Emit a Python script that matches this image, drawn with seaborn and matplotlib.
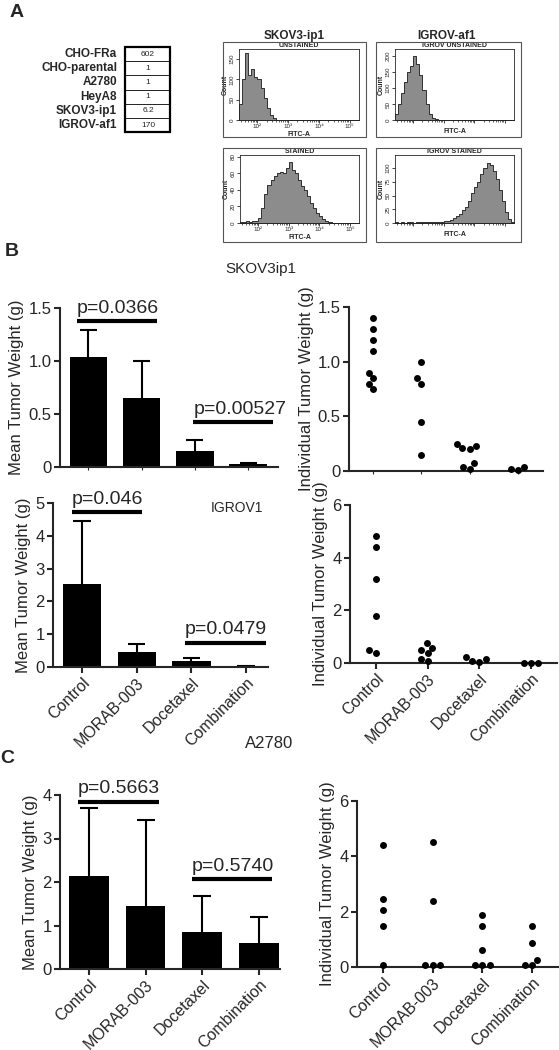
import numpy as np
import pandas as pd
import seaborn as sns
import matplotlib.pyplot as plt
from matplotlib.patches import Rectangle
from matplotlib.lines import Line2D

# ---------------- data ----------------
groups = ["Control", "MORAB-003", "Docetaxel", "Combination"]

# panel A table
cell_lines = ["CHO-FRa", "CHO-parental", "A2780", "HeyA8", "SKOV3-ip1", "IGROV-af1"]
fra_values = ["602", "1", "1", "1", "6.2", "170"]

# flow cytometry: counts per 0.1 log10(FITC-A) bin, 10^1.4 .. 10^5.3
fitc_edges = [round(1.4 + 0.1 * i, 2) for i in range(40)]
skov_unstained = [40, 100, 165, 110, 125, 105, 100, 80, 55, 30, 12, 4, 1,
                  0, 0, 0, 0, 0, 0, 0, 0, 0, 0, 0, 0, 0, 0, 0, 0, 0, 0, 0, 0, 0, 0, 0, 0, 0, 0]
igrov_unstained = [20, 50, 85, 120, 150, 170, 200, 175, 140, 95, 50, 20, 6, 2,
                   0, 0, 0, 0, 0, 0, 0, 0, 0, 0, 0, 0, 0, 0, 0, 0, 0, 0, 0, 0, 0, 0, 0, 0, 0]
skov_stained = [1, 1, 2, 1, 2, 3, 6, 18, 35, 46, 52, 57, 60, 62, 60, 66, 74, 64, 60, 52,
                45, 40, 32, 24, 18, 12, 8, 5, 2, 1, 0, 0, 0, 0, 0, 0, 0, 0, 0]
igrov_stained = [1, 0, 1, 0, 1, 1, 0, 1, 1, 1, 1, 1, 2, 2, 2, 2, 3, 4, 6, 9,
                 12, 17, 24, 30, 40, 55, 65, 75, 90, 100, 110, 105, 95, 80, 60, 40, 20, 8, 2]

# tumor weights (g): mean and SD
skov_mean = [1.04, 0.65, 0.15, 0.025]
skov_sd = [0.25, 0.35, 0.10, 0.015]
igrov_mean = [2.52, 0.45, 0.17, 0.02]
igrov_sd = [1.92, 0.25, 0.09, 0.01]
a2780_mean = [2.13, 1.45, 0.86, 0.59]
a2780_sd = [1.56, 1.97, 0.81, 0.61]

# individual tumor weights (g)
skov_points = [[1.40, 1.30, 1.20, 1.10, 0.90, 0.75, 0.80, 0.85],
               [1.00, 0.85, 0.80, 0.45, 0.15],
               [0.25, 0.21, 0.20, 0.23, 0.07, 0.02, 0.04],
               [0.04, 0.01, 0.015]]
igrov_points = [[4.82, 4.39, 3.20, 1.78, 0.38, 0.48],
                [0.58, 0.38, 0.48, 0.77, 0.08, 0.16],
                [0.16, 0.04, 0.08, 0.23],
                [0.01, 0.005, 0.01]]
a2780_points = [[4.41, 2.47, 2.07, 1.48, 0.08],
                [4.52, 2.39, 0.08, 0.08, 0.08],
                [1.89, 1.48, 0.60, 0.08, 0.08, 0.08],
                [1.48, 0.88, 0.27, 0.08, 0.08]]

# significance brackets: p-value, group span, height
skov_p = ["0.0366", "0.00527"]
skov_span = [(-0.21, 1.29), (1.97, 3.47)]
skov_ph = [1.38, 0.42]
igrov_p = ["0.046", "0.0479"]
igrov_span = [(-0.18, 1.10), (1.88, 3.36)]
igrov_ph = [4.72, 0.745]
a2780_p = ["0.5663", "0.5740"]
a2780_span = [(-0.19, 1.23), (1.82, 3.23)]
a2780_ph = [3.85, 2.06]

# ---------------- style ----------------
sns.set_style("ticks")
plt.rcParams['font.family'] = ['Liberation Sans', 'DejaVu Sans']

W, H = 559, 1050
fig = plt.figure(figsize=(W / 100, H / 100), dpi=100)


def add_ax(x0, y0, x1, y1):
    return fig.add_axes([x0 / W, 1 - y1 / H, (x1 - x0) / W, (y1 - y0) / H])


def ftext(x, y, s, **kw):
    fig.text(x / W, 1 - y / H, s, **kw)


def fbox(x0, y0, x1, y1, **kw):
    fig.add_artist(Rectangle((x0 / W, 1 - y1 / H), (x1 - x0) / W, (y1 - y0) / H,
                             transform=fig.transFigure, fill=False, **kw))


# ---------------- panel A ----------------
ftext(10, 4, "A", fontsize=14, fontweight='bold', va='top')

row_top, row_h = 47, 14.2
for i, (name, val) in enumerate(zip(cell_lines, fra_values)):
    yc = row_top + row_h * (i + 0.5)
    ftext(117, yc, name, fontsize=8.5, fontweight='bold', ha='right', va='center')
    ftext(148, yc, val, fontsize=6, ha='center', va='center')
    if i > 0:
        fig.add_artist(Line2D([125 / W, 170 / W], [1 - (row_top + row_h * i) / H] * 2,
                              transform=fig.transFigure, color='black', lw=0.6))
fbox(125, row_top, 170, row_top + row_h * 6, edgecolor='black', lw=1.6)

minor_pos = [np.log10(k * 10 ** n) for n in range(1, 6) for k in range(2, 10)]
minor_pos = [m for m in minor_pos if 1.4 < m < 5.3]


def flow_panel(box, inner, counts, title, yticks, ylim, xlabels):
    fbox(*box, edgecolor='#555555', lw=0.8)
    ax = add_ax(*inner)
    hist = pd.DataFrame({"fitc": [e + 0.05 for e in fitc_edges[:-1]], "count": counts})
    sns.histplot(data=hist, x="fitc", weights="count", bins=fitc_edges, element='step',
                 fill=True, color='#8c8c8c', edgecolor='#1a1a1a', linewidth=0.6, alpha=1, ax=ax)
    ax.set_xlim(1.4, 5.3)
    ax.set_ylim(*ylim)
    ax.set_xticks([2, 3, 4, 5])
    ax.set_xticks(minor_pos, minor=True)
    if xlabels:
        ax.set_xticklabels(["10²", "10³", "10⁴", "10⁵"], fontsize=4.5)
    else:
        ax.set_xticklabels([])
    ax.set_yticks(yticks)
    ax.set_yticklabels([str(t) for t in yticks], rotation=90, va='center', fontsize=4.5)
    ax.tick_params(length=2, width=0.6, pad=1)
    ax.tick_params(which='minor', length=1.2, width=0.5)
    for s in ax.spines.values():
        s.set_linewidth(0.6)
    ax.set_ylabel("Count", fontsize=5, fontweight='bold', labelpad=1)
    ax.set_xlabel("FITC-A", fontsize=5, fontweight='bold', labelpad=1.5)
    ax.set_title(title, fontsize=5, fontweight='bold', pad=1)


ftext(294, 36, "SKOV3-ip1", fontsize=8.5, fontweight='bold', ha='center', va='center')
ftext(447, 36, "IGROV-af1", fontsize=8.5, fontweight='bold', ha='center', va='center')
flow_panel((223, 42, 366, 137), (239, 49, 359, 120), skov_unstained, "UNSTAINED",
           [0, 50, 100, 150], (0, 175), True)
flow_panel((376, 42, 521, 137), (395, 49, 514, 120), igrov_unstained, "IGROV UNSTAINED",
           [0, 50, 100, 150, 200], (0, 222), False)
flow_panel((223, 148, 366, 242), (240, 155, 359, 223), skov_stained, "STAINED",
           [0, 20, 40, 60, 80], (0, 82), True)
flow_panel((376, 148, 521, 242), (395, 155, 514, 223), igrov_stained, "IGROV STAINED",
           [0, 25, 50, 75, 100], (0, 124), False)


# ---------------- panels B / C ----------------
def style_axes(ax, xlim, ylim, yticks, ylabels, ylabel, show_x):
    sns.despine(ax=ax)
    ax.set_xlim(*xlim)
    ax.set_ylim(*ylim)
    ax.set_yticks(yticks)
    ax.set_yticklabels(ylabels, fontsize=12)
    for s in ('left', 'bottom'):
        ax.spines[s].set_linewidth(1.5)
    ax.tick_params(length=4, width=1.5, pad=2)
    ax.set_xticks(range(len(groups)))
    if show_x:
        ax.set_xticklabels(groups, rotation=45, ha='right', rotation_mode='anchor', fontsize=11.5)
    else:
        ax.set_xticklabels([])
        ax.tick_params(axis='x', length=2, width=0.8)
    ax.set_xlabel('')
    ax.set_ylabel(ylabel, fontsize=12, labelpad=3)


def bar_panel(ax, means, sds, pvals, spans, heights, xlim, ylim, yticks, ylabels, show_x):
    sns.barplot(x=groups, y=means, order=groups, color='black', saturation=1,
                width=0.7, errorbar=None, edgecolor='black', linewidth=0, ax=ax)
    xs = np.arange(len(groups))
    tops = np.array(means) + np.array(sds)
    ax.vlines(xs, means, tops, color='black', lw=1.5, clip_on=False)
    ax.hlines(tops, xs - 0.16, xs + 0.16, color='black', lw=1.5, clip_on=False)
    for p, (a, b), h in zip(pvals, spans, heights):
        ax.plot([a, b], [h, h], color='black', lw=3, solid_capstyle='butt', clip_on=False)
        ax.annotate(f"p={p}", xy=(a, h), xytext=(0, 3), textcoords='offset points',
                    ha='left', va='bottom', fontsize=14, annotation_clip=False)
    style_axes(ax, xlim, ylim, yticks, ylabels, "Mean Tumor Weight (g)", show_x)


def dot_panel(ax, points, xlim, ylim, yticks, ylabels, show_x):
    xs = [g for g, vals in zip(groups, points) for _ in vals]
    ys = [v for vals in points for v in vals]
    sns.swarmplot(x=xs, y=ys, order=groups, color='black', size=5, ax=ax, clip_on=False)
    style_axes(ax, xlim, ylim, yticks, ylabels, "Individual Tumor Weight (g)", show_x)


ftext(5, 243, "B", fontsize=14, fontweight='bold', va='top')
ftext(296, 269, "SKOV3ip1", fontsize=11, ha='right', va='center')

ax = add_ax(60, 308, 278, 467)
bar_panel(ax, skov_mean, skov_sd, skov_p, skov_span, skov_ph, (-0.53, 3.56), (0, 1.5),
          [0, 0.5, 1.0, 1.5], ["0", "0.5", "1.0", "1.5"], False)
ax = add_ax(349, 307, 543, 471)
dot_panel(ax, skov_points, (-0.5, 3.52), (0, 1.5),
          [0, 0.5, 1.0, 1.5], ["0", "0.5", "1.0", "1.5"], False)

ftext(237, 508, "IGROV1", fontsize=10, ha='center', va='center')
ax = add_ax(53, 503, 268, 667)
bar_panel(ax, igrov_mean, igrov_sd, igrov_p, igrov_span, igrov_ph, (-0.53, 3.4), (0, 5),
          [0, 1, 2, 3, 4, 5], ["0", "1", "2", "3", "4", "5"], True)
ax = add_ax(350, 505, 557, 663)
dot_panel(ax, igrov_points, (-0.5, 3.5), (0, 6), [0, 2, 4, 6], ["0", "2", "4", "6"], True)

ftext(0, 750, "C", fontsize=14, fontweight='bold', va='top')
ftext(269, 743, "A2780", fontsize=12, ha='center', va='center')
ax = add_ax(60, 795, 280, 969)
bar_panel(ax, a2780_mean, a2780_sd, a2780_p, a2780_span, a2780_ph, (-0.51, 3.37), (0, 4),
          [0, 1, 2, 3, 4], ["0", "1", "2", "3", "4"], True)
ax = add_ax(357, 801, 559, 967)
dot_panel(ax, a2780_points, (-0.52, 3.54), (0, 6), [0, 2, 4, 6], ["0", "2", "4", "6"], True)

fig.savefig("out.png", dpi=100)
